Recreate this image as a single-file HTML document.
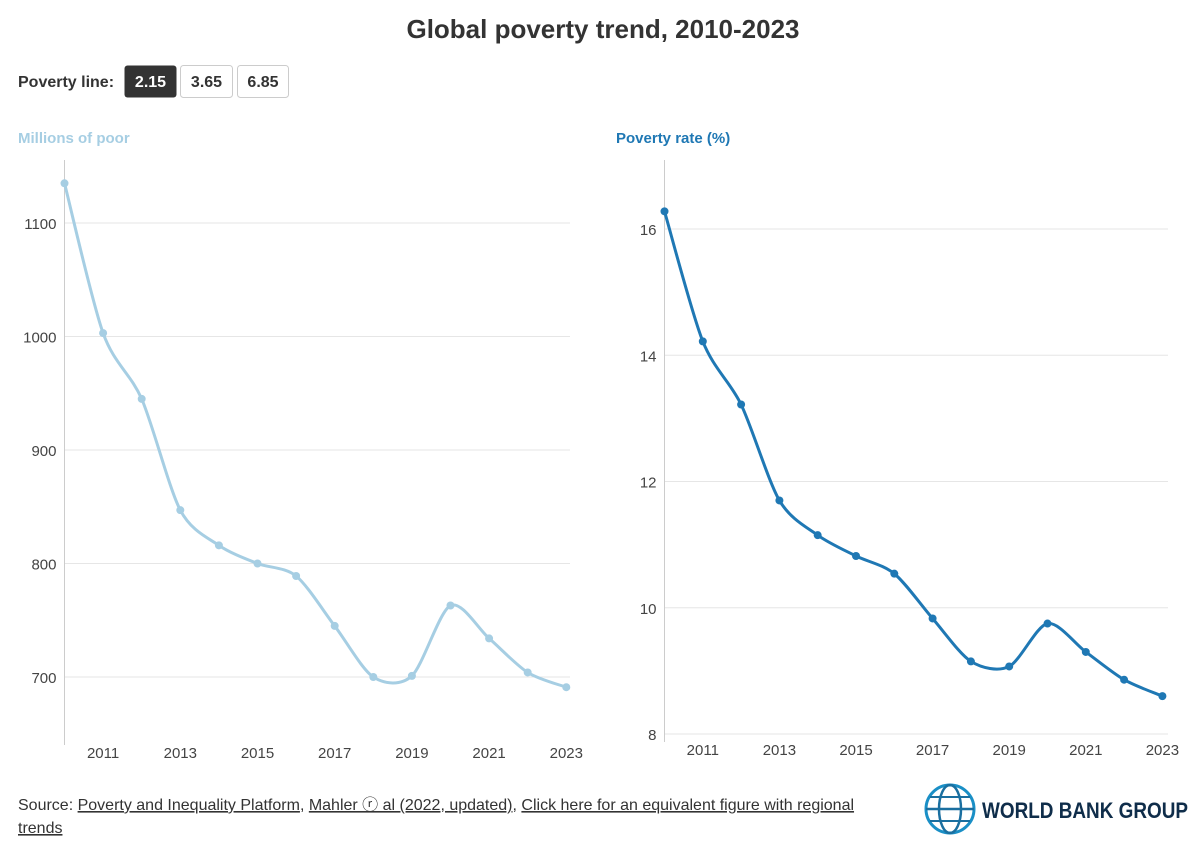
<!DOCTYPE html>
<html><head><meta charset="utf-8"><style>
body{margin:0;background:#fff;font-family:"Liberation Sans",sans-serif;}
svg text{font-family:"Liberation Sans",sans-serif;}
</style></head><body>
<svg id="c" width="1200" height="848" viewBox="0 0 1200 848">
<text x="603" y="38" text-anchor="middle" font-size="26" font-weight="bold" fill="#333">Global poverty trend, 2010-2023</text>
<text x="18" y="87" font-size="16" font-weight="bold" fill="#333">Poverty line:</text>
<g><rect x="124.5" y="65.5" width="52" height="32" rx="3" fill="#333"/><text x="150.5" y="87" text-anchor="middle" font-size="16" font-weight="bold" fill="#fff">2.15</text></g>
<g><rect x="180.5" y="65.5" width="52" height="32" rx="3" fill="#fff" stroke="#ccc"/><text x="206.5" y="87" text-anchor="middle" font-size="16" font-weight="bold" fill="#333">3.65</text></g>
<g><rect x="237.5" y="65.5" width="51" height="32" rx="3" fill="#fff" stroke="#ccc"/><text x="263" y="87" text-anchor="middle" font-size="16" font-weight="bold" fill="#333">6.85</text></g>
<text x="18" y="143" font-size="15" font-weight="bold" fill="#a6cee3">Millions of poor</text>
<text x="616" y="143" font-size="15" font-weight="bold" fill="#1f78b4">Poverty rate (%)</text>
<g id="left"></g><g id="right"></g>
<text x="18" y="810" font-size="16" fill="#333">Source: <tspan text-decoration="underline">Poverty and Inequality Platform</tspan>, <tspan text-decoration="underline">Mahler ⓡ al (2022, updated)</tspan>, <tspan text-decoration="underline">Click here for an equivalent figure with regional</tspan></text>
<text x="18" y="833" font-size="16" fill="#333" text-decoration="underline">trends</text>
<g>
<circle cx="950" cy="809" r="24" fill="none" stroke="#1a8fc6" stroke-width="3"/>
<ellipse cx="950" cy="809" rx="11" ry="24" fill="none" stroke="#1a6fa0" stroke-width="2.5"/>
<line x1="926" y1="809" x2="974" y2="809" stroke="#1a6fa0" stroke-width="2.5"/>
<line x1="930" y1="797" x2="970" y2="797" stroke="#1a6fa0" stroke-width="2"/>
<line x1="930" y1="821" x2="970" y2="821" stroke="#1a6fa0" stroke-width="2"/>
<text x="982" y="818" font-size="22" font-weight="bold" fill="#0f2d4a" textLength="206" lengthAdjust="spacingAndGlyphs">WORLD BANK GROUP</text>
</g>
</svg>
<script>
const years=[2010,2011,2012,2013,2014,2015,2016,2017,2018,2019,2020,2021,2022,2023];
const poorMillions=[1135,1003,945,847,816,800,789,745,700,701,763,734,704,691];
const povertyRate=[16.28,14.22,13.22,11.70,11.15,10.82,10.54,9.83,9.15,9.07,9.75,9.30,8.86,8.60];
const leftTicks=[700,800,900,1000,1100];
const rightTicks=[8,10,12,14,16];
const xTickYears=[2011,2013,2015,2017,2019,2021,2023];
const NS='http://www.w3.org/2000/svg';
function mk(p,t,a){const e=document.createElementNS(NS,t);for(const k in a)e.setAttribute(k,a[k]);p.appendChild(e);return e;}
function draw(gid,vals,ticks,cfg){
 const g=document.getElementById(gid);
 const x=y=>cfg.x0+(y-2010)*cfg.xs;
 const y=v=>cfg.yA+(v-cfg.vA)*(cfg.yB-cfg.yA)/(cfg.vB-cfg.vA);
 ticks.forEach(t=>{
  const gl=mk(g,'line',{x1:cfg.x0,x2:cfg.x1,y1:y(t),y2:y(t),stroke:'#e6e6e6'});
  
  const tx=mk(g,'text',{x:cfg.x0-8,y:y(t)+6,'text-anchor':'end','font-size':15,fill:'#444'});tx.textContent=t;
  
 });
 const ax=mk(g,'line',{x1:cfg.x0,x2:cfg.x0,y1:cfg.top,y2:cfg.bot,stroke:'#ccc'});
 
 xTickYears.forEach(yr=>{const tx=mk(g,'text',{x:x(yr),y:cfg.bot+13,'text-anchor':'middle','font-size':15,fill:'#444'});tx.textContent=yr;
  });
 const P=years.map((yr,i)=>[x(yr),y(vals[i])]);
 let d='M'+P[0][0]+','+P[0][1];
 const k=1/7;
 for(let i=0;i<P.length-1;i++){const p0=P[i-1]||P[i],p1=P[i],p2=P[i+1],p3=P[i+2]||P[i+1];
  d+=` C${p1[0]+(p2[0]-p0[0])*k},${p1[1]+(p2[1]-p0[1])*k} ${p2[0]-(p3[0]-p1[0])*k},${p2[1]-(p3[1]-p1[1])*k} ${p2[0]},${p2[1]}`;}
 const ln=mk(g,'path',{d:d,fill:'none',stroke:cfg.col,'stroke-width':3});
 
 P.forEach(p=>{const c=mk(g,'circle',{cx:p[0],cy:p[1],r:4,fill:cfg.col});
  });
}
draw('left',poorMillions,leftTicks,{x0:64.5,x1:570,xs:38.6,top:160,bot:745,yA:677,vA:700,yB:223,vB:1100,col:'#a6cee3'});
draw('right',povertyRate,rightTicks,{x0:664.5,x1:1168,xs:38.3,top:160,bot:742,yA:734,vA:8,yB:229,vB:16,col:'#1f78b4'});
</script>
</body></html>
